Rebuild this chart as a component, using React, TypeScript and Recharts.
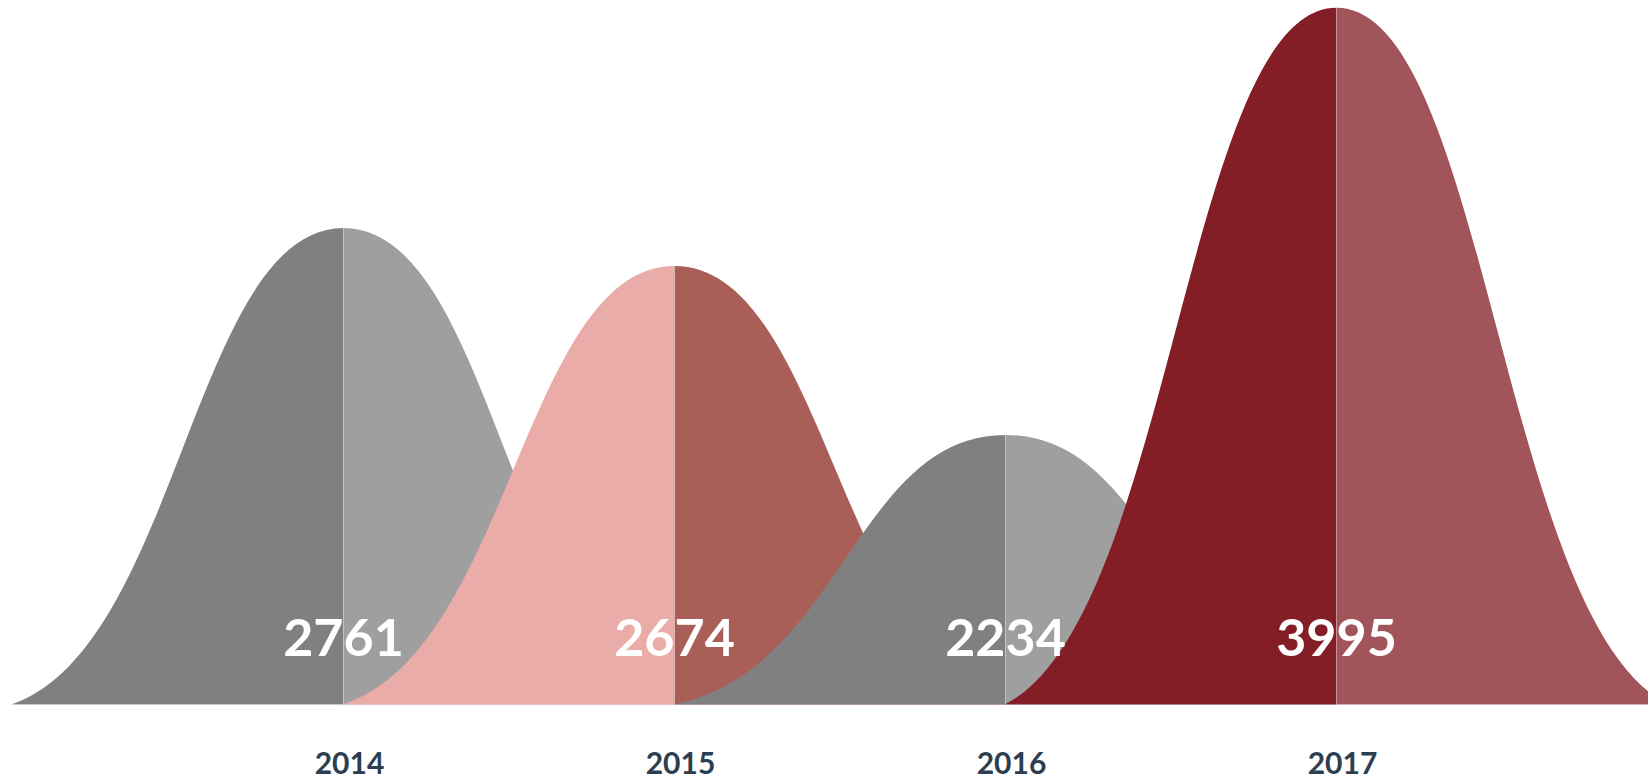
import { Bar, BarChart, LabelList, XAxis, YAxis } from "recharts"

const years = ["2014", "2015", "2016", "2017"]
// numbers printed on each mountain
const totals = [2761, 2674, 2234, 3995]
// plotted heights
const heights = [2732, 2514, 1544, 3995]
const leftColors = ["#808080", "#eaaca8", "#808080", "#831e27"]
const rightColors = ["#9f9f9f", "#a95e57", "#9f9f9f", "#a1545a"]

const data = years.map((year, i) => ({ year, total: totals[i], height: heights[i] }))

const Mountain = (props: any) => {
	const { x, y, width, height, index } = props
	if (!height) return null
	const cx = x + width / 2
	const base = y + height
	const w = width
	const h = height
	const left = `M${cx - w},${base} C${cx - 0.5 * w},${base - 0.12 * h} ${cx - 0.45 * w},${y} ${cx},${y} L${cx},${base} Z`
	const right = `M${cx},${y} C${cx + 0.45 * w},${y} ${cx + 0.5 * w},${base - 0.12 * h} ${cx + w},${base} L${cx},${base} Z`
	return (
		<g>
			<path d={left} fill={leftColors[index]} />
			<path d={right} fill={rightColors[index]} />
			<line x1={cx} x2={cx} y1={y} y2={base} stroke="#fff" strokeOpacity={0.25} />
			<line x1={cx - w} x2={cx} y1={base + 0.5} y2={base + 0.5} stroke={leftColors[index]} strokeOpacity={0.45} />
			<line x1={cx} x2={cx + w} y1={base + 0.5} y2={base + 0.5} stroke={rightColors[index]} strokeOpacity={0.45} />
		</g>
	)
}

const TotalLabel = (props: any) => {
	const vb = props.viewBox || props
	const x = vb.x ?? props.x
	const y = vb.y ?? props.y
	const width = vb.width ?? props.width
	const height = vb.height ?? props.height
	return (
		<text
			x={x + width / 2}
			y={y + height - 48}
			textAnchor="middle"
			fontFamily="Lato"
			fontWeight={700}
			fontSize={52}
			fill="#fff"
		>
			{props.value}
		</text>
	)
}

const YearTick = ({ x, y, payload }: any) => (
	<text
		x={x + 6}
		y={y + 70}
		textAnchor="middle"
		fontFamily="Lato"
		fontWeight={700}
		fontSize={30}
		fill="#2c3e50"
	>
		{payload.value}
	</text>
)

export default function App() {
	return (
		<div style={{ position: "absolute", left: 0, top: 0 }}>
			<BarChart
				width={1648}
				height={782}
				data={data}
				margin={{ top: 7, right: 146, left: 178, bottom: 0 }}
				barCategoryGap={0}
			>
				<XAxis
					dataKey="year"
					axisLine={false}
					tickLine={false}
					tickSize={0}
					tickMargin={0}
					height={78}
					tick={<YearTick />}
				/>
				<YAxis hide domain={[0, 4000]} />
				<Bar dataKey="height" shape={<Mountain />} isAnimationActive={false}>
					<LabelList dataKey="total" content={<TotalLabel />} />
				</Bar>
			</BarChart>
		</div>
	)
}
